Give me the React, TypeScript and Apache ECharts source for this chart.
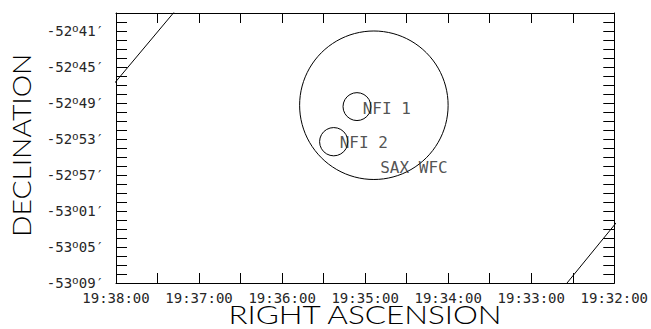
import React, { useEffect, useRef } from "react";
import * as echarts from "echarts";

// RA in seconds of time since 0h; Dec in arcminutes (negative)
const raMin = 70320; // 19:32:00
const raMax = 70680; // 19:38:00
const decMin = -3189; // -53°09'
const decMax = -3159; // -52°39'

// circles: centre RA, centre Dec, radius (arcmin)
const circleRa = [70493.7, 70505.9, 70522.7];
const circleDec = [-3169.25, -3169.4, -3173.3];
const circleRadius = [8.25, 1.55, 1.57];

const labelNames = ["NFI 1", "NFI 2", "SAX WFC"];
const labelRa = [70501.8, 70518.4, 70489.1];
const labelDec = [-3169.56, -3173.44, -3176.14];

// straight edges (clipped at the frame)
const edge1 = [
  [70684.3, -3167.39],
  [70633.8, -3158.13],
];
const edge2 = [
  [70356.05, -3189.36],
  [70316.4, -3181.89],
];

const FONT = "DejaVu Sans Mono";
const TITLE_FONT = "Lato";

function pad(n: number) {
  return n < 10 ? "0" + n : "" + n;
}

function raFmt(v: number) {
  const r = Math.round(v);
  if (r % 60 !== 0) return "";
  const h = Math.floor(r / 3600);
  const m = Math.floor((r % 3600) / 60);
  const s = r % 60;
  return `${h}:${pad(m)}:${pad(s)}`;
}

function decFmt(v: number) {
  const r = Math.round(v);
  if ((r - decMin) % 4 !== 0) return "";
  const a = -r;
  const d = Math.floor(a / 60);
  const m = a % 60;
  return `{a|-${d}}{b|o}{a|${pad(m)}′}`;
}

export default function App() {
  const ref = useRef<HTMLDivElement>(null);
  useEffect(() => {
    if (!ref.current) return;
    const chart = echarts.init(ref.current, null, { renderer: "svg" });
    const axisCommon = {
      type: "value" as const,
      axisLine: { show: true, lineStyle: { color: "#000", width: 1 } },
      splitLine: { show: false },
    };
    const ink = "#262626";
    chart.setOption({
      animation: false,
      backgroundColor: "#fff",
      grid: { left: 116, right: 35.5, top: 13, bottom: 46 },
      xAxis: [
        {
          ...axisCommon,
          min: raMin,
          max: raMax,
          interval: 30,
          inverse: true,
          position: "bottom",
          axisTick: { show: true, inside: true, length: 10, lineStyle: { color: "#000" } },
          axisLabel: {
            show: true,
            formatter: raFmt,
            fontFamily: FONT,
            fontSize: 14,
            lineHeight: 14,
            color: ink,
            margin: 8,
          },
        },
        {
          ...axisCommon,
          min: raMin,
          max: raMax,
          interval: 30,
          inverse: true,
          position: "top",
          axisTick: { show: true, inside: true, length: 10, lineStyle: { color: "#000" } },
          axisLabel: { show: false },
        },
      ],
      yAxis: [
        {
          ...axisCommon,
          min: decMin,
          max: decMax,
          interval: 1,
          position: "left",
          axisTick: { show: true, inside: true, length: 11, lineStyle: { color: "#000" } },
          axisLabel: {
            show: true,
            formatter: decFmt,
            margin: 12,
            color: ink,
            rich: {
              a: { fontFamily: FONT, fontSize: 14, color: ink, lineHeight: 16 },
              b: {
                fontFamily: FONT,
                fontSize: 11,
                color: ink,
                verticalAlign: "top",
                lineHeight: 8,
              },
            },
          },
        },
        {
          ...axisCommon,
          min: decMin,
          max: decMax,
          interval: 1,
          position: "right",
          axisTick: { show: true, inside: true, length: 11, lineStyle: { color: "#000" } },
          axisLabel: { show: false },
        },
      ],
      graphic: [
        {
          type: "text",
          x: 9,
          y: 237,
          rotation: Math.PI / 2,
          scaleX: 1.13,
          style: {
            text: "DECLINATION",
            fontFamily: TITLE_FONT,
            fontSize: 25,
            fontWeight: 300,
            fill: "#000",
            align: "left",
            verticalAlign: "top",
          },
        },
        {
          type: "text",
          x: 365,
          y: 314.5,
          scaleX: 1.21,
          style: {
            text: "RIGHT ASCENSION",
            fontFamily: TITLE_FONT,
            fontSize: 26,
            fontWeight: 300,
            lineHeight: 22,
            fill: "#000",
            align: "center",
            verticalAlign: "middle",
          },
        },
      ],
      series: [
        {
          type: "custom",
          coordinateSystem: "cartesian2d",
          clip: true,
          data: circleRa.map((r, i) => [r, circleDec[i], circleRadius[i]]),
          renderItem: (params: any, api: any) => {
            const c = api.coord([api.value(0), api.value(1)]);
            const rr = api.size([0, api.value(2)])[1];
            return {
              type: "circle",
              shape: { cx: c[0], cy: c[1], r: rr },
              style: { fill: "none", stroke: "#000", lineWidth: 1 },
            };
          },
        },
        {
          type: "scatter",
          symbolSize: 0,
          data: labelRa.map((r, i) => ({ value: [r, labelDec[i]], name: labelNames[i] })),
          label: {
            show: true,
            position: "right",
            distance: 0,
            formatter: (p: any) => p.name,
            fontFamily: FONT,
            fontSize: 16,
            color: ink,
          },
          silent: true,
        },
        {
          type: "line",
          data: edge1,
          showSymbol: false,
          clip: true,
          lineStyle: { color: "#000", width: 1 },
        },
        {
          type: "line",
          data: edge2,
          showSymbol: false,
          clip: true,
          lineStyle: { color: "#000", width: 1 },
        },
      ],
    });
    return () => chart.dispose();
  }, []);
  return (
    <div
      ref={ref}
      style={{ position: "fixed", left: 0, top: 0, width: 651, height: 329, background: "#fff" }}
    />
  );
}
